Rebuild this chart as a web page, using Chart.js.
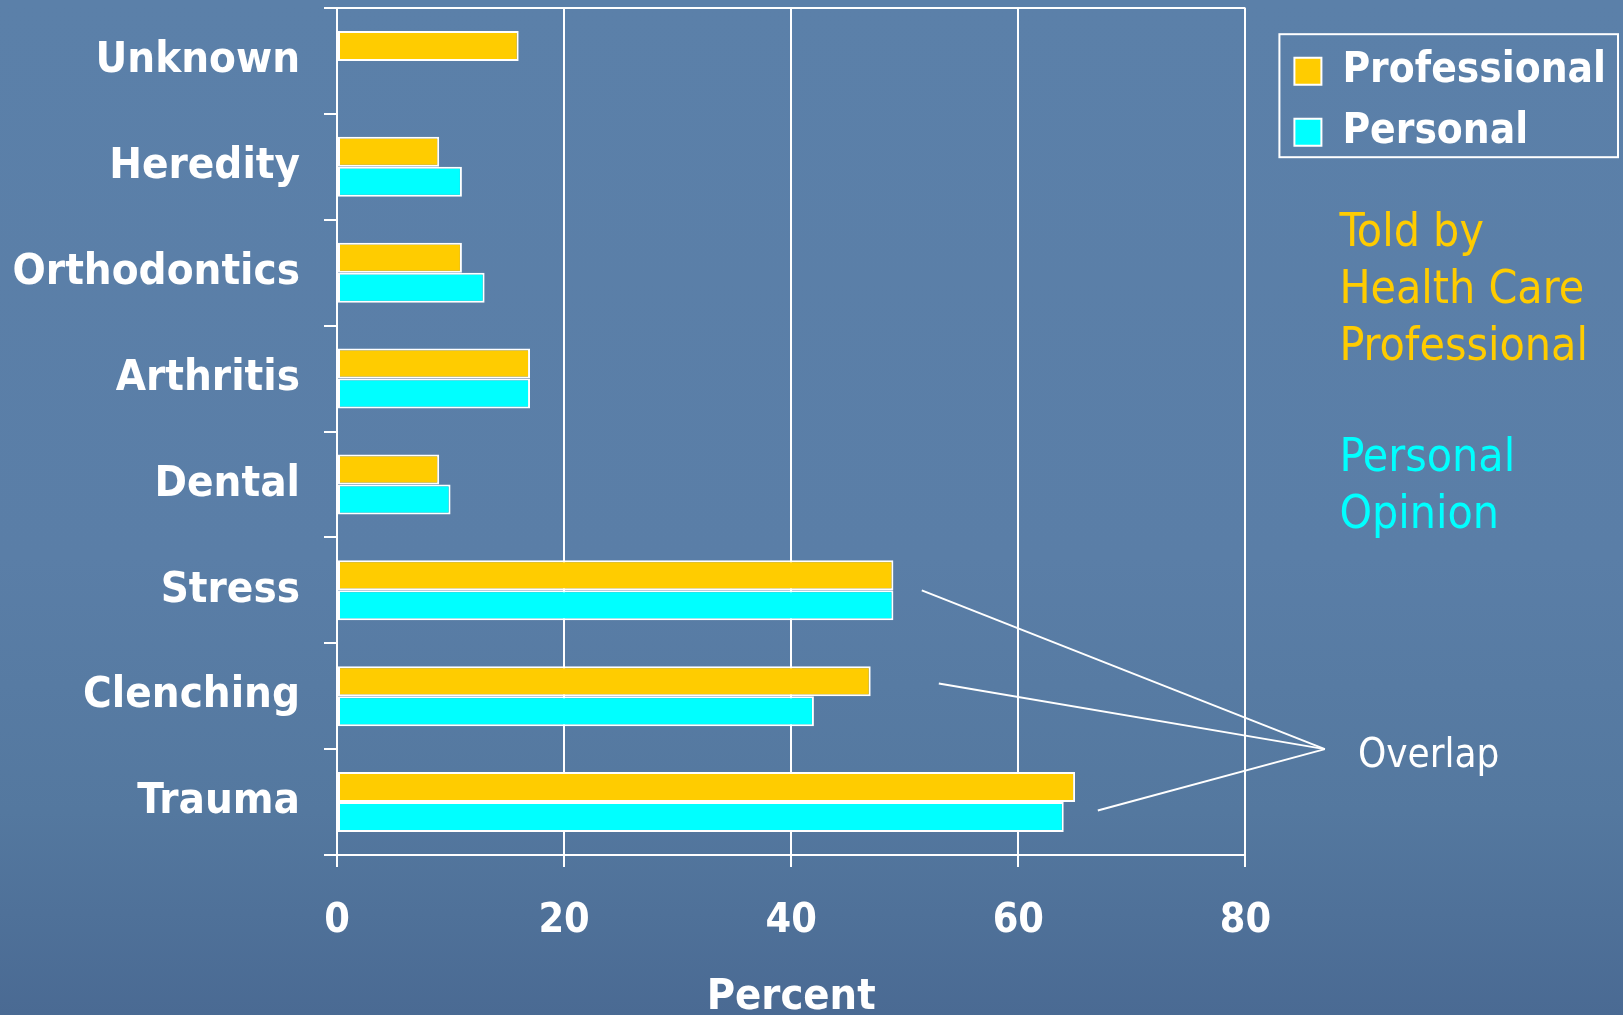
<!DOCTYPE html>
<html>
<head>
<meta charset="utf-8">
<title>Perceived causes</title>
<script src="https://cdn.jsdelivr.net/npm/chart.js@4.4.1/dist/chart.umd.min.js"></script>
<style>
  html, body { margin: 0; padding: 0; }
  body {
    width: 1623px; height: 1015px; overflow: hidden;
    background: linear-gradient(180deg, #5b80a9 0%, #5a7ea7 55%, #54789f 80%, #4a6a93 100%);
  }
  canvas { display: block; }
</style>
</head>
<body>
<canvas id="chart" width="1623" height="1015"></canvas>
<script>
// Causes, top to bottom
const categories = ['Unknown', 'Heredity', 'Orthodontics', 'Arthritis', 'Dental', 'Stress', 'Clenching', 'Trauma'];
// Percent of respondents per cause
const professional = [16, 9, 11, 17, 9, 49, 47, 65];
const personal = [null, 11, 13, 17, 10, 49, 42, 64];
const seriesNames = ['Professional', 'Personal'];
const xTicks = [0, 20, 40, 60, 80];
const axisTitle = 'Percent';
const notesProfessional = ['Told by', 'Health Care', 'Professional'];
const notesPersonal = ['Personal', 'Opinion'];
const overlapLabel = 'Overlap';

const YELLOW = '#FFCC00';
const CYAN = '#00FFFF';
const FONT = "'DejaVu Sans Condensed', 'DejaVu Sans', sans-serif";

// Pointer lines for the "Overlap" callout: where each starts (x in percent units,
// dy as a fraction of one category band) and where they meet.
const callout = {
  from: [
    { cat: 'Stress', x: 51.5, dy: 0 },
    { cat: 'Clenching', x: 53, dy: -0.12 },
    { cat: 'Trauma', x: 67, dy: 0.08 }
  ],
  meetX: 87
};

const decorations = {
  id: 'decorations',
  afterDraw(chart) {
    const { ctx, scales: { x, y }, legend } = chart;
    const band = y.getPixelForValue(1) - y.getPixelForValue(0);
    ctx.save();

    // frame around the legend
    const hb = legend.legendHitBoxes;
    if (hb && hb.length) {
      const left = hb[0].left - 15;
      const top = hb[0].top - 16;
      const right = Math.max(...hb.map(h => h.left + h.width)) + 12;
      const last = hb[hb.length - 1];
      const bottom = last.top + last.height + 4;
      ctx.strokeStyle = '#ffffff';
      ctx.lineWidth = 2;
      ctx.strokeRect(left, top, right - left, bottom - top);

      // side notes
      const nx = hb[0].left + 45;
      let base = bottom + 89;
      ctx.font = '46px ' + FONT;
      ctx.textAlign = 'left';
      ctx.textBaseline = 'alphabetic';
      ctx.fillStyle = YELLOW;
      notesProfessional.forEach((t, i) => ctx.fillText(t, nx, base + i * 57));
      base += (notesProfessional.length + 1) * 57 - 3;
      ctx.fillStyle = CYAN;
      notesPersonal.forEach((t, i) => ctx.fillText(t, nx, base + i * 57));
    }

    // overlap callout
    const mx = x.getPixelForValue(callout.meetX);
    const my = (y.getPixelForValue(6) + y.getPixelForValue(7)) / 2;
    ctx.strokeStyle = '#ffffff';
    ctx.lineWidth = 2;
    callout.from.forEach(f => {
      const i = categories.indexOf(f.cat);
      const sx = x.getPixelForValue(f.x);
      const sy = y.getPixelForValue(i) + f.dy * band;
      ctx.beginPath();
      ctx.moveTo(sx, sy);
      ctx.lineTo(mx, my);
      ctx.stroke();
    });
    ctx.fillStyle = '#ffffff';
    ctx.font = '40px ' + FONT;
    ctx.textBaseline = 'middle';
    ctx.fillText(overlapLabel, mx + 33, my + 7);
    ctx.restore();
  }
};

new Chart(document.getElementById('chart'), {
  type: 'bar',
  data: {
    labels: categories,
    datasets: [
      { label: seriesNames[0], data: professional, backgroundColor: YELLOW, borderColor: '#ffffff', borderWidth: 2, borderSkipped: false, xAxisID: 'x', yAxisID: 'y' },
      { label: seriesNames[1], data: personal, backgroundColor: CYAN, borderColor: '#ffffff', borderWidth: 2, borderSkipped: false, xAxisID: 'x', yAxisID: 'y' }
    ]
  },
  options: {
    indexAxis: 'y',
    responsive: false,
    devicePixelRatio: 1,
    animation: false,
    categoryPercentage: 0.567,
    barPercentage: 1,
    layout: { padding: { top: 8, right: 7, bottom: 0, left: 0 } },
    scales: {
      x: {
        type: 'linear',
        position: 'bottom',
        min: 0,
        max: 80,
        afterBuildTicks: s => { s.ticks = xTicks.map(v => ({ value: v })); },
        afterFit: s => { s.height = 160; },
        grid: { color: '#ffffff', lineWidth: 2, tickLength: 12, drawTicks: true },
        border: { display: true, color: '#ffffff', width: 2 },
        ticks: { color: '#ffffff', padding: 30, font: { family: FONT, size: 41, weight: 'bold' } },
        title: { display: true, text: axisTitle, color: '#ffffff', padding: { top: 0, bottom: 0 }, font: { family: FONT, size: 43, weight: 'bold', lineHeight: 0.8 } }
      },
      y: {
        type: 'category',
        position: 'left',
        offset: true,
        afterFit: s => { s.width = 337; s.paddingTop = 0; s.paddingBottom = 0; },
        grid: {
          offset: true,
          lineWidth: 2,
          tickLength: 13,
          color: c => (c.index === 0 ? '#ffffff' : 'rgba(0,0,0,0)'),
          tickColor: '#ffffff'
        },
        border: { display: true, color: '#ffffff', width: 2 },
        ticks: { color: '#ffffff', padding: 24, font: { family: FONT, size: 43.5, weight: 'bold' } }
      },
      gap: {
        type: 'linear',
        position: 'right',
        display: true,
        grid: { display: false, drawTicks: false },
        border: { display: false },
        ticks: { display: false },
        afterFit: s => { s.width = 30; s.paddingTop = 0; s.paddingBottom = 0; }
      }
    },
    plugins: {
      tooltip: { enabled: false },
      legend: {
        position: 'right',
        align: 'start',
        maxWidth: 500,
        title: { display: true, text: '', padding: { top: 22, bottom: 0 }, font: { size: 1 } },
        labels: {
          color: '#ffffff',
          boxWidth: 27,
          boxHeight: 27,
          padding: 19,
          font: { family: FONT, size: 42, weight: 'bold' }
        }
      }
    }
  },
  plugins: [decorations]
});
</script>
</body>
</html>
